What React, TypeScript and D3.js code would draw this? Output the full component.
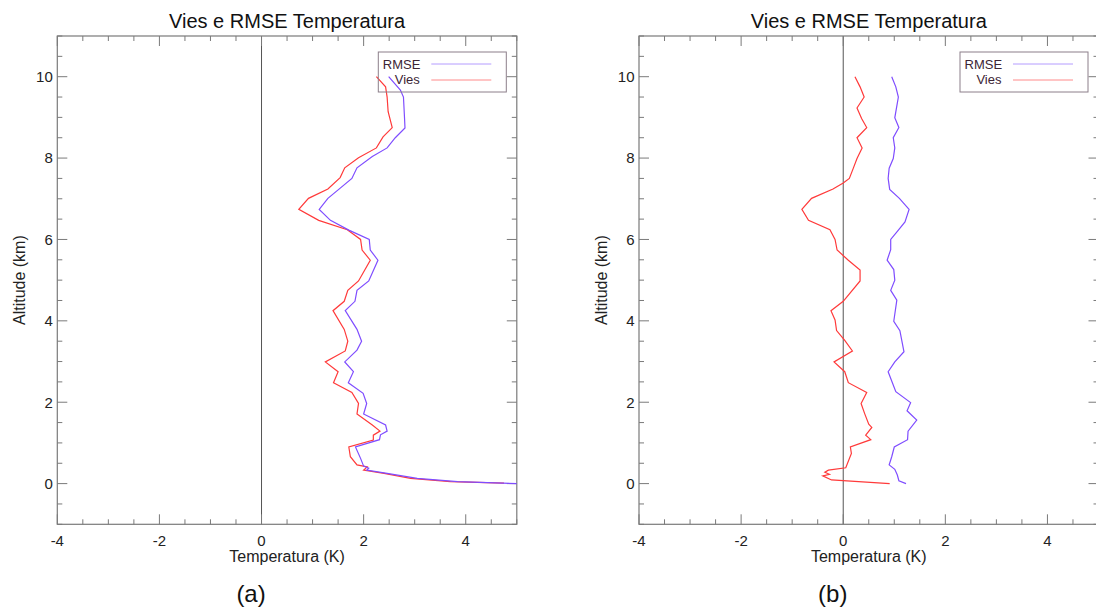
import React from "react";
import * as d3 from "d3";

// ---- data ----
const xTickValues = [-4, -2, 0, 2, 4];
const yTickValues = [0, 2, 4, 6, 8, 10];
const xDomain = [-4, 5];
const yDomain = [-1, 11];
const legendLabels = ["RMSE", "Vies"];
const panelLabels = ["(a)", "(b)"];
const chartTitle = "Vies e RMSE Temperatura";

// Panel (a)
const viesA_T = [2.25, 2.43, 2.46, 2.48, 2.56, 2.38, 2.25, 1.90, 1.63, 1.54, 1.30, 0.92, 0.73, 1.12, 1.68, 1.94, 1.97, 2.13, 1.90, 1.69, 1.62, 1.40, 1.62, 1.69, 1.64, 1.25, 1.50, 1.41, 1.77, 1.90, 1.87, 2.17, 2.32, 2.19, 2.19, 1.71, 1.74, 1.87, 2.07, 2.00, 2.40, 2.92, 3.70, 4.75];
const viesA_H = [10.0, 9.75, 9.5, 9.14, 8.75, 8.52, 8.25, 8.01, 7.76, 7.52, 7.24, 7.01, 6.74, 6.47, 6.24, 6.0, 5.74, 5.49, 4.98, 4.75, 4.48, 4.25, 3.79, 3.50, 3.26, 2.99, 2.75, 2.48, 2.24, 1.97, 1.71, 1.44, 1.29, 1.19, 1.07, 0.90, 0.66, 0.46, 0.41, 0.33, 0.25, 0.13, 0.05, 0.01];
const rmseA_T = [2.49, 2.72, 2.78, 2.80, 2.81, 2.62, 2.46, 2.17, 1.87, 1.77, 1.53, 1.30, 1.13, 1.35, 1.71, 2.11, 2.13, 2.28, 2.10, 1.87, 1.83, 1.64, 1.87, 1.96, 1.87, 1.63, 1.80, 1.70, 1.99, 2.06, 2.00, 2.43, 2.46, 2.33, 2.31, 1.84, 1.94, 2.00, 2.10, 2.06, 2.46, 3.05, 3.84, 5.0];
const rmseA_H = [10.0, 9.67, 9.5, 9.01, 8.74, 8.50, 8.25, 8.04, 7.76, 7.50, 7.25, 7.01, 6.74, 6.47, 6.23, 6.0, 5.74, 5.49, 4.98, 4.75, 4.48, 4.25, 3.79, 3.50, 3.28, 2.99, 2.75, 2.48, 2.22, 1.97, 1.71, 1.44, 1.29, 1.20, 1.08, 0.90, 0.62, 0.43, 0.38, 0.33, 0.25, 0.13, 0.05, 0.0];

// Panel (b)
const viesB_T = [0.23, 0.33, 0.41, 0.27, 0.36, 0.46, 0.27, 0.37, 0.27, 0.20, 0.12, 0.0, -0.20, -0.62, -0.81, -0.68, -0.26, -0.16, -0.12, 0.10, 0.33, 0.33, 0.0, -0.24, -0.16, -0.13, 0.03, 0.18, -0.18, 0.03, 0.10, 0.46, 0.35, 0.42, 0.50, 0.56, 0.44, 0.54, 0.14, 0.16, 0.05, -0.29, -0.36, -0.27, -0.40, -0.23, 0.91];
const viesB_H = [10.0, 9.75, 9.5, 9.23, 8.97, 8.75, 8.50, 8.25, 7.99, 7.76, 7.50, 7.39, 7.24, 7.01, 6.74, 6.47, 6.24, 6.0, 5.74, 5.49, 5.25, 4.98, 4.48, 4.25, 4.02, 3.76, 3.52, 3.26, 2.99, 2.75, 2.48, 2.24, 1.97, 1.72, 1.46, 1.38, 1.19, 1.08, 0.90, 0.74, 0.39, 0.33, 0.28, 0.23, 0.19, 0.09, 0.0];
const rmseB_T = [0.95, 1.03, 1.08, 1.01, 1.09, 0.98, 1.01, 0.98, 0.90, 0.88, 0.91, 1.10, 1.29, 1.21, 1.08, 0.93, 0.93, 0.86, 0.99, 1.01, 0.93, 1.05, 0.99, 1.11, 1.19, 1.01, 0.88, 1.03, 1.32, 1.25, 1.44, 1.27, 1.26, 1.00, 0.95, 0.90, 1.01, 1.06, 1.09, 1.23];
const rmseB_H = [10.0, 9.75, 9.5, 8.99, 8.75, 8.50, 8.25, 7.99, 7.75, 7.50, 7.23, 7.01, 6.74, 6.43, 6.23, 6.0, 5.75, 5.49, 5.26, 5.00, 4.75, 4.51, 3.99, 3.76, 3.24, 2.99, 2.75, 2.26, 1.99, 1.79, 1.56, 1.29, 1.08, 0.90, 0.66, 0.46, 0.35, 0.21, 0.07, 0.0];

const COLOR_RMSE = "#7f4dff";
const COLOR_VIES = "#ff3a3a";
const AXIS = "#7a7a7a";
const FONT = "'Liberation Sans', Arial, Helvetica, sans-serif";

type PanelProps = {
  left: number;
  label: string;
  viesT: number[];
  viesH: number[];
  rmseT: number[];
  rmseH: number[];
};

const W = 459.5;
const TOP = 36;
const BOTTOM = 524.3;

function Panel({ left, label, viesT, viesH, rmseT, rmseH }: PanelProps) {
  const x = d3.scaleLinear().domain(xDomain).range([left, left + W]);
  const y = d3.scaleLinear().domain(yDomain).range([BOTTOM, TOP]);
  const line = d3
    .line<[number, number]>()
    .x((d) => x(d[0]))
    .y((d) => y(d[1]));
  const vies = viesT.map((t, i) => [t, viesH[i]] as [number, number]);
  const rmse = rmseT.map((t, i) => [t, rmseH[i]] as [number, number]);
  const xMinor = d3.range(xDomain[0], xDomain[1] + 0.001, 0.5);
  const yMinor = d3.range(yDomain[0], yDomain[1] + 0.001, 0.5);
  const cx = (x.range()[0] + x.range()[1]) / 2;
  const clipId = "clip" + Math.round(left);
  const lgLeft = left + 321;
  return (
    <g>
      <defs>
        <clipPath id={clipId}>
          <rect x={left} y={TOP} width={W} height={BOTTOM - TOP} />
        </clipPath>
      </defs>
      <text x={cx} y={28} textAnchor="middle" fontSize={20} fill="#111">
        {chartTitle}
      </text>
      {/* zero line */}
      <line x1={x(0)} x2={x(0)} y1={TOP} y2={BOTTOM} stroke="#555" strokeWidth={1} />
      {/* frame */}
      <rect x={left} y={TOP} width={W} height={BOTTOM - TOP} fill="none" stroke={AXIS} strokeWidth={1.2} />
      {/* x ticks */}
      {xMinor.map((v) => {
        const major = xTickValues.includes(v);
        const len = major ? 10 : 5;
        return (
          <g key={"xt" + v}>
            <line x1={x(v)} x2={x(v)} y1={BOTTOM} y2={BOTTOM - len} stroke={AXIS} />
            <line x1={x(v)} x2={x(v)} y1={TOP} y2={TOP + len} stroke={AXIS} />
          </g>
        );
      })}
      {yMinor.map((v) => {
        const major = yTickValues.includes(v);
        const len = major ? 10 : 5;
        return (
          <g key={"yt" + v}>
            <line x1={left} x2={left + len} y1={y(v)} y2={y(v)} stroke={AXIS} />
            <line x1={left + W} x2={left + W - len} y1={y(v)} y2={y(v)} stroke={AXIS} />
          </g>
        );
      })}
      {xTickValues.map((v) => (
        <text key={"xl" + v} x={x(v)} y={546} textAnchor="middle" fontSize={15} fill="#222">
          {v}
        </text>
      ))}
      {yTickValues.map((v) => (
        <text key={"yl" + v} x={left - 4.5} y={y(v) + 5.3} textAnchor="end" fontSize={15} fill="#222">
          {v}
        </text>
      ))}
      <text x={cx} y={562} textAnchor="middle" fontSize={16} fill="#222">
        Temperatura (K)
      </text>
      <text
        transform={`translate(${left - 32.5},${(TOP + BOTTOM) / 2}) rotate(-90)`}
        textAnchor="middle"
        fontSize={16}
        fill="#222"
      >
        Altitude (km)
      </text>
      <text x={cx - 36} y={602} textAnchor="middle" fontSize={24} fill="#111">
        {label}
      </text>
      <g clipPath={`url(#${clipId})`}>
        <path d={line(vies) || ""} fill="none" stroke={COLOR_VIES} strokeWidth={1.2} />
        <path d={line(rmse) || ""} fill="none" stroke={COLOR_RMSE} strokeWidth={1.2} />
      </g>
      {/* legend */}
      <rect x={lgLeft} y={52} width={128} height={40} fill="none" stroke="#8c7f8a" strokeWidth={1} />
      <text x={lgLeft + 4.5} y={68.5} fontSize={13} fill="#3c2535">
        {legendLabels[0]}
      </text>
      <text x={lgLeft + 41.5} y={84} fontSize={13} fill="#3c2535" textAnchor="end">
        {legendLabels[1]}
      </text>
      <line x1={lgLeft + 53} x2={lgLeft + 113} y1={64} y2={64} stroke="#b49cff" strokeWidth={1} />
      <line x1={lgLeft + 53} x2={lgLeft + 113} y1={80} y2={80} stroke="#ff8a8a" strokeWidth={1} />
    </g>
  );
}

export default function App() {
  return (
    <svg
      width={1096}
      height={610}
      style={{ position: "absolute", left: 0, top: 0, background: "#fff", fontFamily: FONT }}
      fontFamily={FONT}
    >
      <rect width={1096} height={610} fill="#fff" />
      <Panel left={57.3} label={panelLabels[0]} viesT={viesA_T} viesH={viesA_H} rmseT={rmseA_T} rmseH={rmseA_H} />
      <Panel left={639} label={panelLabels[1]} viesT={viesB_T} viesH={viesB_H} rmseT={rmseB_T} rmseH={rmseB_H} />
    </svg>
  );
}
